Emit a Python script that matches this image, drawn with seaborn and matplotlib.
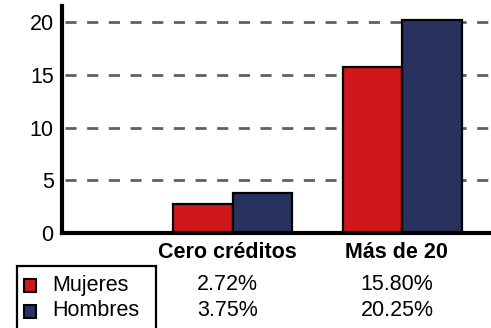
import matplotlib
matplotlib.use("Agg")
import matplotlib.pyplot as plt
import matplotlib.transforms as mtransforms
from matplotlib.patches import Rectangle
import pandas as pd
import seaborn as sns

# Data
categories = ["Cero créditos", "Más de 20"]
series = ["Mujeres", "Hombres"]
mujeres = [2.72, 15.80]
hombres = [3.75, 20.25]
value_labels = {"Mujeres": ["2.72%", "15.80%"], "Hombres": ["3.75%", "20.25%"]}
yticks = [0, 5, 10, 15, 20]
colors = {"Mujeres": "#CF171C", "Hombres": "#27325E"}

df = pd.DataFrame({
    "categoria": categories * 2,
    "sexo": [series[0]] * len(categories) + [series[1]] * len(categories),
    "valor": mujeres + hombres,
})

sns.set_theme(style="white")
plt.rcParams["font.family"] = ["Liberation Sans", "DejaVu Sans"]

W, H = 491, 328
fig = plt.figure(figsize=(W / 100, H / 100), dpi=100)
ax = fig.add_axes([62 / W, 1 - 233 / H, 429 / W, 227 / H])

sns.barplot(data=df, x="categoria", y="valor", hue="sexo", hue_order=series,
            order=categories, palette=colors, width=0.702, edgecolor="black",
            linewidth=1.6, saturation=1, legend=False, ax=ax)

ax.set_xlim(-1.006, 1.525)
ax.set_ylim(0, 21.55)
ax.set_yticks(yticks)
ax.set_yticklabels([str(t) for t in yticks])
ax.set_xticks([])
ax.set_xlabel("")
ax.set_ylabel("")
ax.tick_params(axis="y", length=0, pad=6, labelsize=15.5, labelcolor="black")

for side in ["top", "right"]:
    ax.spines[side].set_visible(False)
for side in ["left", "bottom"]:
    ax.spines[side].set_color("black")
    ax.spines[side].set_linewidth(3)
    ax.spines[side].set_zorder(5)

# dashed horizontal guides
for t in yticks[1:]:
    ax.axhline(t, xmin=0.008, xmax=1, color="#606060", linewidth=2,
               linestyle=(0, (4, 3.8)), zorder=0)

# data table under the axes
trans = mtransforms.blended_transform_factory(ax.transData, fig.transFigure)
for i, cat in enumerate(categories):
    ax.text(i - 0.03, 1 - 253 / H, cat, transform=trans, ha="center", va="center",
            fontsize=15.5, fontweight="bold", color="black", clip_on=False)
row_y = {"Mujeres": 285, "Hombres": 311}
for s in series:
    for i, lab in enumerate(value_labels[s]):
        ax.text(i - 0.03, 1 - row_y[s] / H, lab, transform=trans, ha="center",
                va="center", fontsize=15.5, color="black", clip_on=False)

# legend column of the table
fig.patches.append(Rectangle((17 / W, -0.05), (156 - 17) / W, 1 - 266 / H + 0.05,
                             transform=fig.transFigure, facecolor="none",
                             edgecolor="black", linewidth=1.6))
for s in series:
    yc = row_y[s]
    fig.patches.append(Rectangle((24 / W, 1 - (yc + 6.5) / H), 12 / W, 13 / H,
                                 transform=fig.transFigure, facecolor=colors[s],
                                 edgecolor="black", linewidth=1.5))
    fig.text(52 / W, 1 - yc / H, s, ha="left", va="center", fontsize=15.5,
             color="black")

fig.savefig("out.png", dpi=100)
